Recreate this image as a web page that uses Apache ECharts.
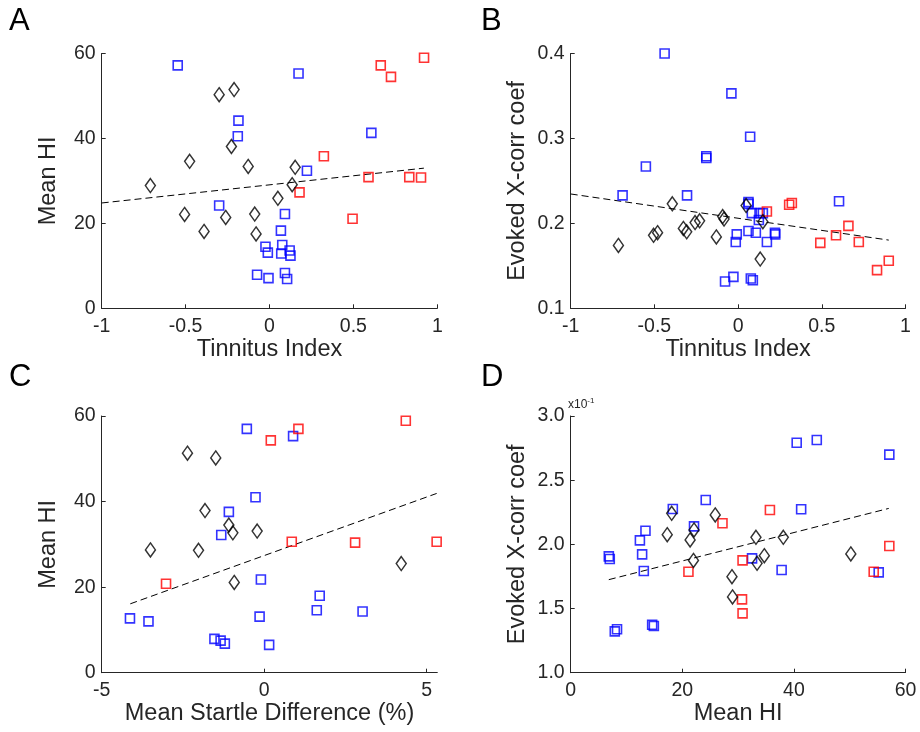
<!DOCTYPE html>
<html>
<head>
<meta charset="utf-8">
<script src="https://cdn.jsdelivr.net/npm/echarts@6/dist/echarts.min.js"></script>
<style>
html,body{margin:0;padding:0;background:#fff;}
#chart{width:920px;height:732px;}
</style>
</head>
<body>
<div id="chart"></div>
<script>
// ---------- Panel A: Tinnitus Index vs Mean HI ----------
var aBlue = [[-0.547,57.2],[0.173,55.3],[-0.185,44.2],[-0.189,40.5],[0.607,41.3],[0.223,32.4],[-0.30,24.2],[0.092,22.2],[0.068,18.3],[-0.024,14.5],[-0.01,13.1],[0.076,14.9],[0.07,12.9],[0.12,13.6],[0.125,12.4],[-0.074,7.9],[-0.006,7.1],[0.092,8.3],[0.105,6.9]];
var aRed = [[0.663,57.2],[0.724,54.5],[0.921,59.0],[0.324,35.8],[0.590,30.9],[0.833,30.9],[0.903,30.8],[0.179,27.3],[0.495,21.1]];
var aBlack = [[-0.211,51.5],[-0.30,50.3],[-0.227,38.1],[-0.476,34.6],[-0.127,33.4],[0.153,33.2],[-0.71,28.9],[0.135,29.1],[0.05,25.9],[-0.506,22.1],[-0.261,21.4],[-0.088,22.2],[-0.39,18.1],[-0.080,17.5]];
var aFit = [[-1,24.8],[0.92,33.0]];

// ---------- Panel B: Tinnitus Index vs Evoked X-corr coef ----------
var bBlue = [[-0.439,0.400],[-0.04,0.353],[0.072,0.302],[-0.19,0.279],[-0.19,0.277],[-0.551,0.267],[-0.69,0.233],[-0.305,0.233],[0.062,0.225],[0.062,0.223],[0.603,0.226],[0.082,0.212],[0.128,0.212],[0.148,0.212],[0.124,0.204],[-0.008,0.187],[-0.014,0.178],[0.062,0.191],[0.106,0.189],[0.172,0.178],[0.22,0.189],[0.222,0.187],[-0.078,0.1315],[-0.028,0.137],[0.076,0.135],[0.088,0.133]];
var bRed = [[0.172,0.214],[0.305,0.222],[0.321,0.224],[0.659,0.197],[0.585,0.186],[0.491,0.177],[0.721,0.178],[0.90,0.156],[0.83,0.145]];
var bBlack = [[-0.393,0.223],[0.048,0.221],[-0.715,0.174],[-0.505,0.186],[-0.481,0.189],[-0.327,0.194],[-0.307,0.190],[-0.257,0.201],[-0.23,0.203],[-0.13,0.184],[-0.092,0.208],[-0.084,0.205],[0.148,0.202],[0.132,0.158]];
var bFit = [[-1,0.2346],[0.9,0.1803]];

// ---------- Panel C: Mean Startle Difference vs Mean HI ----------
var cBlue = [[-0.533,57.0],[0.891,55.3],[-0.266,41.0],[-1.086,37.6],[-1.32,32.2],[-0.10,21.8],[1.71,18.0],[1.62,14.6],[3.03,14.3],[-0.14,13.1],[-4.13,12.7],[-3.56,12.0],[-1.53,7.9],[-1.34,7.5],[-1.21,6.8],[0.154,6.5]];
var cRed = [[4.36,58.9],[1.055,57.0],[0.205,54.3],[0.85,30.6],[2.8,30.4],[5.31,30.6],[-3.02,20.8]];
var cBlack = [[-2.36,51.3],[-1.49,50.2],[-1.82,37.9],[-1.086,34.5],[-0.963,32.7],[-0.215,33.1],[-3.50,28.7],[-2.02,28.6],[-0.92,21.1],[4.22,25.5]];
var cFit = [[-4.12,16.1],[5.31,41.9]];

// ---------- Panel D: Mean HI vs Evoked X-corr coef ----------
var dBlue = [[44.1,0.2813],[40.5,0.2792],[57.1,0.2699],[24.2,0.2345],[18.3,0.2275],[41.3,0.2273],[22.1,0.2140],[13.4,0.2106],[12.4,0.2031],[12.8,0.1922],[6.83,0.1906],[7.0,0.1886],[32.5,0.1891],[13.1,0.1792],[37.8,0.1800],[55.2,0.1782],[7.9,0.1322],[8.3,0.1338],[14.6,0.1374],[14.9,0.1364]];
var dRed = [[35.7,0.2268],[27.2,0.2164],[57.1,0.1987],[30.8,0.1875],[21.1,0.1787],[54.3,0.1787],[30.7,0.1571],[30.8,0.1462]];
var dBlack = [[18.1,0.2242],[25.9,0.2229],[22.1,0.2112],[17.3,0.2075],[21.4,0.2034],[33.2,0.2055],[38.1,0.2055],[34.7,0.1912],[33.4,0.1852],[22.0,0.1875],[50.2,0.1925],[28.9,0.1748],[29.0,0.1590]];
var dFit = [[6.83,0.1725],[57.0,0.2280]];

// ---------- Labels ----------
var panelLetters = ['A','B','C','D'];
var xNames = ['Tinnitus Index','Tinnitus Index','Mean Startle Difference (%)','Mean HI'];
var yNames = ['Mean HI','Evoked X-corr coef','Mean HI','Evoked X-corr coef'];
var ticksTI = [-1,-0.5,0,0.5,1];
var ticksHI = [0,20,40,60];
var ticksCoefB = [0.1,0.2,0.3,0.4];
var ticksStartle = [-5,0,5];
var ticksCoefD = [0.10,0.15,0.20,0.25,0.30];

var FONT = 'Arial, "Liberation Sans", Helvetica, sans-serif';
var TXT = '#262626';
var TICK_FS = 19.5;
var NAME_FS = 23.5;

var grids = [
  {left:101.7, top:53.5, width:335.6, height:254.8},
  {left:570.7, top:53.5, width:334.8, height:254.8},
  {left:101.7, top:416, width:335.6, height:256.7},
  {left:570.7, top:416, width:334.8, height:256.7}
];

function axisBase(extra){
  var o = {
    axisLine:{show:true, onZero:false, lineStyle:{color:TXT, width:1}},
    axisTick:{show:true, inside:true, length:4, lineStyle:{color:TXT, width:1}},
    splitLine:{show:false},
    axisLabel:{color:TXT, fontSize:TICK_FS, fontFamily:FONT},
    nameLocation:'middle',
    nameTextStyle:{color:TXT, fontSize:NAME_FS, fontFamily:FONT}
  };
  for (var k in extra){
    if (typeof extra[k]==='object' && !Array.isArray(extra[k]) && o[k]) {
      for (var j in extra[k]) o[k][j]=extra[k][j];
    } else o[k]=extra[k];
  }
  return o;
}

var xAxes = [
  axisBase({gridIndex:0, type:'value', min:-1, max:1, interval:0.5, name:xNames[0], nameGap:27,
    axisLabel:{margin:8, customValues:ticksTI, formatter:function(v){return String(v);}}, axisTick:{customValues:ticksTI}}),
  axisBase({gridIndex:1, type:'value', min:-1, max:1, interval:0.5, name:xNames[1], nameGap:27,
    axisLabel:{margin:8, customValues:ticksTI, formatter:function(v){return String(v);}}, axisTick:{customValues:ticksTI}}),
  axisBase({gridIndex:2, type:'value', min:-5, max:5.33, interval:5, name:xNames[2], nameGap:27,
    axisLabel:{margin:8, customValues:ticksStartle}, axisTick:{customValues:ticksStartle}}),
  axisBase({gridIndex:3, type:'value', min:0, max:60, interval:20, name:xNames[3], nameGap:27,
    axisLabel:{margin:8, customValues:ticksHI}, axisTick:{customValues:ticksHI}})
];
var yAxes = [
  axisBase({gridIndex:0, type:'value', min:0, max:60, interval:20, name:yNames[0], nameGap:41,
    axisLabel:{margin:6, customValues:ticksHI}, axisTick:{customValues:ticksHI}}),
  axisBase({gridIndex:1, type:'value', min:0.1, max:0.4, interval:0.1, name:yNames[1], nameGap:41,
    axisLabel:{margin:6, customValues:ticksCoefB, formatter:function(v){return v.toFixed(1);}}, axisTick:{customValues:ticksCoefB}}),
  axisBase({gridIndex:2, type:'value', min:0, max:60, interval:20, name:yNames[2], nameGap:41,
    axisLabel:{margin:6, customValues:ticksHI}, axisTick:{customValues:ticksHI}}),
  axisBase({gridIndex:3, type:'value', min:0.1, max:0.3, interval:0.05, name:yNames[3], nameGap:41,
    axisLabel:{margin:6, customValues:ticksCoefD, formatter:function(v){return (v*10).toFixed(1);}}, axisTick:{customValues:ticksCoefD}})
];

function sq(data, color, idx){
  return {type:'scatter', xAxisIndex:idx, yAxisIndex:idx, data:data, symbol:'rect', symbolSize:9,
    itemStyle:{color:'rgba(0,0,0,0)', borderColor:color, borderWidth:1.6}, z:3, silent:true};
}
function dia(data, idx){
  return {type:'scatter', xAxisIndex:idx, yAxisIndex:idx, data:data, symbol:'diamond', symbolSize:[10,14],
    itemStyle:{color:'rgba(0,0,0,0)', borderColor:'#000', borderWidth:1.5}, z:3, silent:true};
}
function fit(data, idx){
  return {type:'line', xAxisIndex:idx, yAxisIndex:idx, data:data, symbol:'none',
    lineStyle:{color:'#000', width:1, type:[7,4]}, z:2, silent:true};
}

var series = [
  fit(aFit,0), sq(aBlue,'#0000ff',0), sq(aRed,'#ff0000',0), dia(aBlack,0),
  fit(bFit,1), sq(bBlue,'#0000ff',1), sq(bRed,'#ff0000',1), dia(bBlack,1),
  fit(cFit,2), sq(cBlue,'#0000ff',2), sq(cRed,'#ff0000',2), dia(cBlack,2),
  fit(dFit,3), sq(dBlue,'#0000ff',3), sq(dRed,'#ff0000',3), dia(dBlack,3)
];

var letterPos = [[9,6],[481,6],[9,362],[481,362]];
var graphics = panelLetters.map(function(l,i){
  return {type:'text', left:letterPos[i][0], top:letterPos[i][1],
    style:{text:l, fontSize:31, fontFamily:FONT, fill:'#000'}};
});
graphics.push({type:'text', left:568, top:397,
  style:{text:'{b|x10}{s|-1}', fontFamily:FONT, fill:TXT,
    rich:{b:{fontSize:12, fill:TXT, fontFamily:FONT, verticalAlign:'bottom'},
          s:{fontSize:8, fill:TXT, fontFamily:FONT, verticalAlign:'top', padding:[0,0,6,0]}}}});

var chart = echarts.init(document.getElementById('chart'), null, {renderer:'canvas'});
chart.setOption({
  animation:false,
  backgroundColor:'#fff',
  textStyle:{fontFamily:FONT},
  grid:grids,
  xAxis:xAxes,
  yAxis:yAxes,
  series:series,
  graphic:graphics
});
</script>
</body>
</html>
